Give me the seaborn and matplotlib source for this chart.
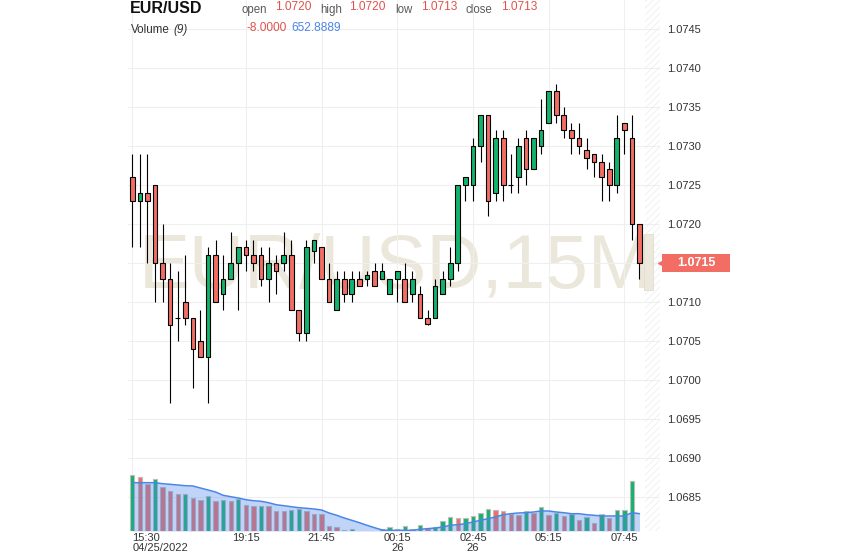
import numpy as np
import pandas as pd
import matplotlib
matplotlib.use("Agg")
import matplotlib.pyplot as plt
import matplotlib.transforms as mtrans
from matplotlib.patches import Rectangle
import seaborn as sns

# ---------------- data ----------------
opens = [1.0726, 1.0723, 1.0724, 1.0725, 1.0715, 1.0713, 1.0708, 1.0710, 1.0708, 1.0705,
         1.0703, 1.0716, 1.0711, 1.0713, 1.0715, 1.0717, 1.0716, 1.0716, 1.0713, 1.0715,
         1.0715, 1.0716, 1.0709, 1.0706, 1.07165, 1.0717, 1.0713, 1.0709, 1.0713, 1.0711,
         1.0713, 1.0713, 1.0714, 1.0713, 1.0711, 1.0713, 1.0713, 1.0711, 1.0711, 1.0708,
         1.0708, 1.0711, 1.0713, 1.0715, 1.0725, 1.0725, 1.0730, 1.0734, 1.0724, 1.0731,
         1.0725, 1.0726, 1.0731, 1.0727, 1.0730, 1.0733, 1.0737, 1.0734, 1.0732, 1.0731,
         1.07295, 1.0729, 1.0728, 1.0727, 1.0725, 1.0733, 1.0731, 1.0720]
highs = [1.0729, 1.0729, 1.0729, 1.0725, 1.0720, 1.0715, 1.0714, 1.0716, 1.0708, 1.0709,
         1.0717, 1.0718, 1.0716, 1.0719, 1.0717, 1.0718, 1.0718, 1.0717, 1.0717, 1.0716,
         1.0719, 1.0718, 1.0709, 1.0718, 1.0718, 1.0717, 1.0715, 1.0714, 1.0714, 1.0714,
         1.0714, 1.0714, 1.0715, 1.0715, 1.0713, 1.0714, 1.0715, 1.0714, 1.0712, 1.0709,
         1.0713, 1.0714, 1.0717, 1.0725, 1.0726, 1.0731, 1.0734, 1.0734, 1.0732, 1.0732,
         1.0729, 1.0731, 1.0732, 1.0731, 1.0736, 1.0737, 1.0738, 1.0735, 1.0733, 1.0733,
         1.0731, 1.0729, 1.0729, 1.0728, 1.0734, 1.0733, 1.0734, 1.0720]
lows = [1.0717, 1.0717, 1.0715, 1.0710, 1.0710, 1.0697, 1.0705, 1.0707, 1.0699, 1.0703,
        1.0697, 1.0710, 1.0709, 1.0713, 1.0709, 1.0714, 1.0714, 1.0712, 1.0710, 1.0711,
        1.0714, 1.0709, 1.0705, 1.0705, 1.0715, 1.0713, 1.0710, 1.0709, 1.0710, 1.0710,
        1.0712, 1.0712, 1.0712, 1.0713, 1.0711, 1.0710, 1.0710, 1.0710, 1.0708, 1.0707,
        1.0708, 1.0711, 1.0712, 1.0714, 1.0723, 1.0723, 1.0728, 1.0721, 1.0723, 1.0723,
        1.0724, 1.0724, 1.0725, 1.0727, 1.0729, 1.0733, 1.0733, 1.0731, 1.0729, 1.0729,
        1.0727, 1.0726, 1.0723, 1.0723, 1.0724, 1.0729, 1.0718, 1.0713]
closes = [1.0723, 1.0724, 1.0723, 1.0715, 1.0713, 1.0707, 1.0708, 1.0708, 1.0704, 1.0703,
          1.0716, 1.0710, 1.0713, 1.0715, 1.0717, 1.0716, 1.0715, 1.0713, 1.0715, 1.0714,
          1.0716, 1.0709, 1.0706, 1.0717, 1.0718, 1.0713, 1.0710, 1.0713, 1.0711, 1.0713,
          1.0712, 1.07135, 1.0712, 1.0714, 1.0713, 1.0714, 1.0710, 1.0713, 1.0708, 1.07072,
          1.0712, 1.0713, 1.0715, 1.0725, 1.0726, 1.0730, 1.0734, 1.0723, 1.0731, 1.0725,
          1.0725, 1.0730, 1.0727, 1.0731, 1.0732, 1.0737, 1.0734, 1.0732, 1.0731, 1.0730,
          1.07285, 1.0728, 1.0726, 1.0725, 1.0731, 1.0732, 1.0720, 1.0715]
volumes = [2100, 2035, 1760, 1950, 1647, 1508, 1383, 1390, 1244, 1169,
           1308, 1131, 1169, 1131, 1206, 980, 943, 950, 943, 754,
           750, 792, 829, 754, 641, 635, 189, 151, 26, 87,
           0, 0, 0, 57, 151, 57, 189, 87, 238, 113,
           151, 377, 528, 490, 502, 566, 690, 829, 792, 754,
           652, 615, 754, 690, 905, 615, 690, 566, 652, 426,
           528, 313, 652, 490, 792, 800, 1885, 0]
vol_up = [1, 0, 0, 1, 0, 0, 0, 1, 0, 0,
          1, 0, 1, 0, 1, 0, 0, 1, 0, 0,
          0, 1, 1, 0, 0, 0, 0, 0, 0, 1,
          0, 0, 0, 1, 1, 0, 1, 0, 1, 0,
          1, 1, 1, 0, 1, 1, 1, 1, 0, 0,
          0, 0, 1, 0, 1, 0, 1, 0, 1, 0,
          1, 0, 1, 0, 1, 1, 1, 0]
vol_ma = [1821, 1821, 1821, 1821, 1783, 1760, 1734, 1708, 1697, 1621,
          1546, 1470, 1346, 1293, 1244, 1180, 1142, 1120, 1067, 991,
          954, 916, 878, 856, 829, 792, 679, 592, 490, 403,
          313, 215, 124, 38, 19, 26, 26, 26, 64, 87,
          113, 151, 215, 238, 275, 339, 403, 464, 528, 615,
          652, 679, 690, 716, 754, 754, 716, 690, 652, 652,
          615, 592, 566, 566, 566, 566, 690, 653]
tick_idx = [0, 15, 25, 35, 45, 55, 65]
tick_labels = ["15:30\n04/25/2022", "19:15", "21:45", "00:15\n26", "02:45\n26", "05:15", "07:45"]
price_ticks = [1.0685, 1.0690, 1.0695, 1.0700, 1.0705, 1.0710, 1.0715,
               1.0720, 1.0725, 1.0730, 1.0735, 1.0740, 1.0745]
header_labels = ["open", "high", "low", "close"]
header_values = ["1.0720", "1.0720", "1.0713", "1.0713"]
symbol = "EUR/USD"
watermark = "EUR/USD,15M"
volume_values = ["-8.0000", "652.8889"]

# ---------------- style ----------------
sns.set_theme(style="white")
plt.rcParams["font.family"] = ["Liberation Sans", "DejaVu Sans"]
plt.rcParams["hatch.linewidth"] = 0.5

GREEN = "#12b36c"
RED = "#f26d63"
BLUE = "#4a86e8"
TXT = "#333333"

W, H = 844, 558
L, R, T, B = 128, 660, 0, 531          # plot area in pixels
PX_PER_PRICE = 78000.0                 # 39 px per 0.0005
Y_REF_PRICE, Y_REF_PX = 1.0745, 29
VOL_PER_PX = 37.7
X0_PX, DX_PX = 132.3, 7.57             # candle 0 position and spacing

fig = plt.figure(figsize=(W / 100, H / 100), dpi=100)
fig.patch.set_facecolor("white")
ax = fig.add_axes([L / W, 1 - B / H, (R - L) / W, (B - T) / H])

df = pd.DataFrame(dict(o=opens, h=highs, l=lows, c=closes, v=volumes,
                       up=vol_up, ma=vol_ma))
df["i"] = np.arange(len(df))
last_i = df["i"].iloc[-1]
last_c = df.c.iloc[-1]

# axes limits
ax.set_xlim((L - X0_PX) / DX_PX, (R - X0_PX) / DX_PX)
ax.set_ylim(Y_REF_PRICE - (B - Y_REF_PX) / PX_PER_PRICE,
            Y_REF_PRICE + (Y_REF_PX - T) / PX_PER_PRICE)

# watermark
ax.text(0.502, 0.4595, watermark, transform=ax.transAxes, ha="center",
        va="baseline", fontsize=55, color="#ebe7da", zorder=0.5)

# hatched "future" area
ax.axvspan(last_i + 0.7, ax.get_xlim()[1], facecolor="none", edgecolor="#ebebeb",
           hatch="/////", lw=0, zorder=0.6)

# candles
body_col = np.where(df.c > df.o, GREEN, RED)
ax.vlines(df.i, df.l, df.h, color="black", lw=0.8, zorder=3)
ax.bar(df.i, (df.c - df.o).abs(), bottom=np.minimum(df.o, df.c), width=0.62,
       color=body_col, edgecolor="black", linewidth=0.8, zorder=4)

# small tan marker near last candle
ax.add_patch(Rectangle((last_i + 0.62, last_c - 0.00035), 1.1, 0.00072,
                       facecolor="#ece8dc", edgecolor="#e2ddd0", lw=0.6, zorder=1))

# grid / ticks (the current-price badge replaces its tick label)
ax.set_yticks(price_ticks)
ax.set_yticklabels(["" if abs(p - last_c) < 0.0002 else f"{p:.4f}" for p in price_ticks])
ax.set_xticks(tick_idx)
ax.set_xticklabels(tick_labels, linespacing=0.95)
ax.grid(True, color="#efefef", lw=0.8, zorder=0)
ax.set_axisbelow(True)
for s in ax.spines.values():
    s.set_visible(False)

# volume pane
ax2 = ax.twinx()
ax2.set_ylim(0, (B - T) * VOL_PER_PX)
mask = df.v > 0
vcol = np.where(df.up == 1, GREEN, RED)
ax2.bar(df.i[mask], df.v[mask], width=0.58, color=vcol[mask.values],
        edgecolor="#bdbdbd", linewidth=0.8, zorder=2)
ax2.fill_between(df.i, df.ma, 0, color=BLUE, alpha=0.35, lw=0, zorder=3)
sns.lineplot(x=df.i.values, y=df.ma.values, ax=ax2, color=BLUE, lw=1.1, zorder=4)
ax2.set_yticks([])
ax2.set_xlabel("")
ax2.set_ylabel("")
ax2.grid(False)
for s in ax2.spines.values():
    s.set_visible(False)
ax2.set_xlim(ax.get_xlim())

# right price axis (twinx moves ax ticks left, so restore)
ax.yaxis.tick_right()
ax.tick_params(axis="y", length=0, pad=5, labelsize=8, labelcolor=TXT)
ax.tick_params(axis="x", length=0, pad=1.5, labelsize=8, labelcolor=TXT)
ax.get_xticklabels()[0].set_ha("left")

# current price label
blend = mtrans.blended_transform_factory(ax.transAxes, ax.transData)
ax.add_patch(Rectangle(((662 - L) / (R - L), last_c - 8.5 / PX_PER_PRICE),
                       68 / (R - L), 17 / PX_PER_PRICE, transform=blend,
                       facecolor=RED, edgecolor="none", clip_on=False, zorder=5))
ax.plot([(660.5 - L) / (R - L)], [last_c], marker="<", ms=4, color=RED,
        transform=blend, clip_on=False, zorder=5)
ax.text((696 - L) / (R - L), last_c, f"{last_c:.4f}", transform=blend,
        ha="center", va="center", color="white", fontsize=9, fontweight="bold",
        clip_on=False, zorder=6)

# header texts
def fx(x):
    return x / W

def fy(y):
    return 1 - y / H

fig.text(fx(130), fy(13.3), symbol, fontsize=11.5, fontweight="bold",
         color="#111111", va="baseline")
lab_x = [241.5, 320, 395, 465]
val_x = [275, 349, 421, 501]
for lx, vx, lab, val in zip(lab_x, val_x, header_labels, header_values):
    fig.text(fx(lx), fy(12.7), lab, fontsize=8.3, color="#5a5a5a", va="baseline")
    fig.text(fx(vx), fy(10.2), val, fontsize=8.6, color="#e0524b", va="baseline")
fig.text(fx(130.7), fy(33.3), "Volume", fontsize=8.4, color=TXT, va="baseline")
fig.text(fx(173.3), fy(33.3), "(9)", fontsize=8.4, color=TXT, va="baseline",
         style="italic")
fig.text(fx(246.7), fy(30.7), volume_values[0], fontsize=8.6, color="#e0524b",
         va="baseline")
fig.text(fx(291.7), fy(30.7), volume_values[1], fontsize=8.6, color=BLUE,
         va="baseline")

fig.savefig("out.png", dpi=100, facecolor="white")
